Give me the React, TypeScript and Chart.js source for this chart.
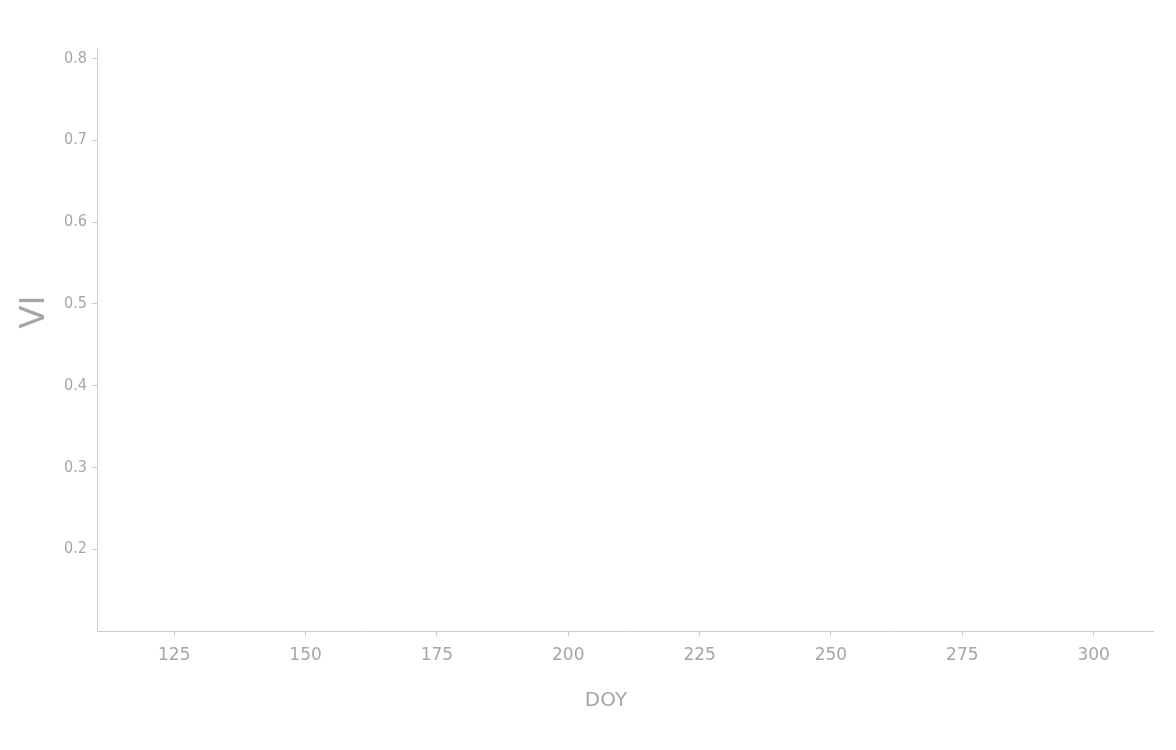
import React, { useEffect, useRef } from 'react';
import { Chart, registerables } from 'chart.js';

Chart.register(...registerables);

// Axis ranges and tick values
const xTicks = [125, 150, 175, 200, 225, 250, 275, 300];
const yTicks = [0.2, 0.3, 0.4, 0.5, 0.6, 0.7, 0.8];
const xRange = [110.3, 311.3];
const yRange = [0.1, 0.8128];

// The reference plots no data: the series is empty
const seriesDoy: number[] = [];
const seriesVi: number[] = [];

const xTitle = 'DOY';
const yTitle = 'VI';

const GREY = '#a6a6a6';
const LINE = '#cccccc';

// Axis titles sit a bit off the centre of the plot in the reference,
// so draw them ourselves instead of with the scale titles
const axisTitles = {
  id: 'axisTitles',
  afterDraw(chart: Chart) {
    const { ctx, chartArea } = chart;
    ctx.save();
    ctx.fillStyle = GREY;
    ctx.textAlign = 'center';
    ctx.textBaseline = 'middle';

    ctx.font = '20px "DejaVu Sans"';
    ctx.fillText(xTitle, chartArea.left + 509, chartArea.bottom + 70);

    ctx.translate(chartArea.left - 61.5, chartArea.top + 264);
    ctx.rotate(-Math.PI / 2);
    ctx.font = '34px "DejaVu Sans"';
    ctx.fillText(yTitle, 0, 0);
    ctx.restore();
  },
};

export default function App() {
  const chartRef = useRef<HTMLCanvasElement>(null);
  const chartInstance = useRef<Chart | null>(null);

  useEffect(() => {
    document.body.style.margin = '0';
    if (!chartRef.current) return;
    if (chartInstance.current) chartInstance.current.destroy();

    const ctx = chartRef.current.getContext('2d');
    if (!ctx) return;

    chartInstance.current = new Chart(ctx, {
      type: 'scatter',
      data: {
        datasets: [
          {
            label: yTitle,
            data: seriesDoy.map((x, i) => ({ x, y: seriesVi[i] })),
            borderColor: '#3b82f6',
            backgroundColor: '#3b82f6',
          },
        ],
      },
      options: {
        animation: false,
        responsive: false,
        maintainAspectRatio: false,
        layout: { padding: { top: 48, right: 23, left: 0, bottom: 0 } },
        plugins: {
          legend: { display: false },
          tooltip: { enabled: false },
        },
        scales: {
          x: {
            type: 'linear',
            min: xRange[0],
            max: xRange[1],
            afterBuildTicks: (scale: any) => {
              scale.ticks = xTicks.map((v) => ({ value: v }));
            },
            afterFit: (scale: any) => {
              scale.height = 750 - 631;
            },
            grid: { drawOnChartArea: false, color: LINE, tickLength: 5 },
            border: { color: LINE },
            ticks: {
              color: GREY,
              padding: 9,
              maxRotation: 0,
              font: { family: 'DejaVu Sans', size: 17 },
              callback: (v: any) => String(v),
            },
          },
          y: {
            type: 'linear',
            min: yRange[0],
            max: yRange[1],
            afterBuildTicks: (scale: any) => {
              scale.ticks = yTicks.map((v) => ({ value: v }));
            },
            afterFit: (scale: any) => {
              scale.width = 97;
            },
            grid: { drawOnChartArea: false, color: LINE, tickLength: 5 },
            border: { color: LINE },
            ticks: {
              color: GREY,
              padding: 5,
              font: { family: '"DejaVu Sans Condensed", "DejaVu Sans", sans-serif', size: 16 },
              callback: (v: any) => Number(v).toFixed(1),
            },
          },
        },
      },
      plugins: [axisTitles],
    });

    return () => {
      if (chartInstance.current) {
        chartInstance.current.destroy();
        chartInstance.current = null;
      }
    };
  }, []);

  return (
    <div style={{ width: 1176, height: 750, background: '#fff' }}>
      <canvas ref={chartRef} width={1176} height={750} style={{ width: 1176, height: 750 }} />
    </div>
  );
}
